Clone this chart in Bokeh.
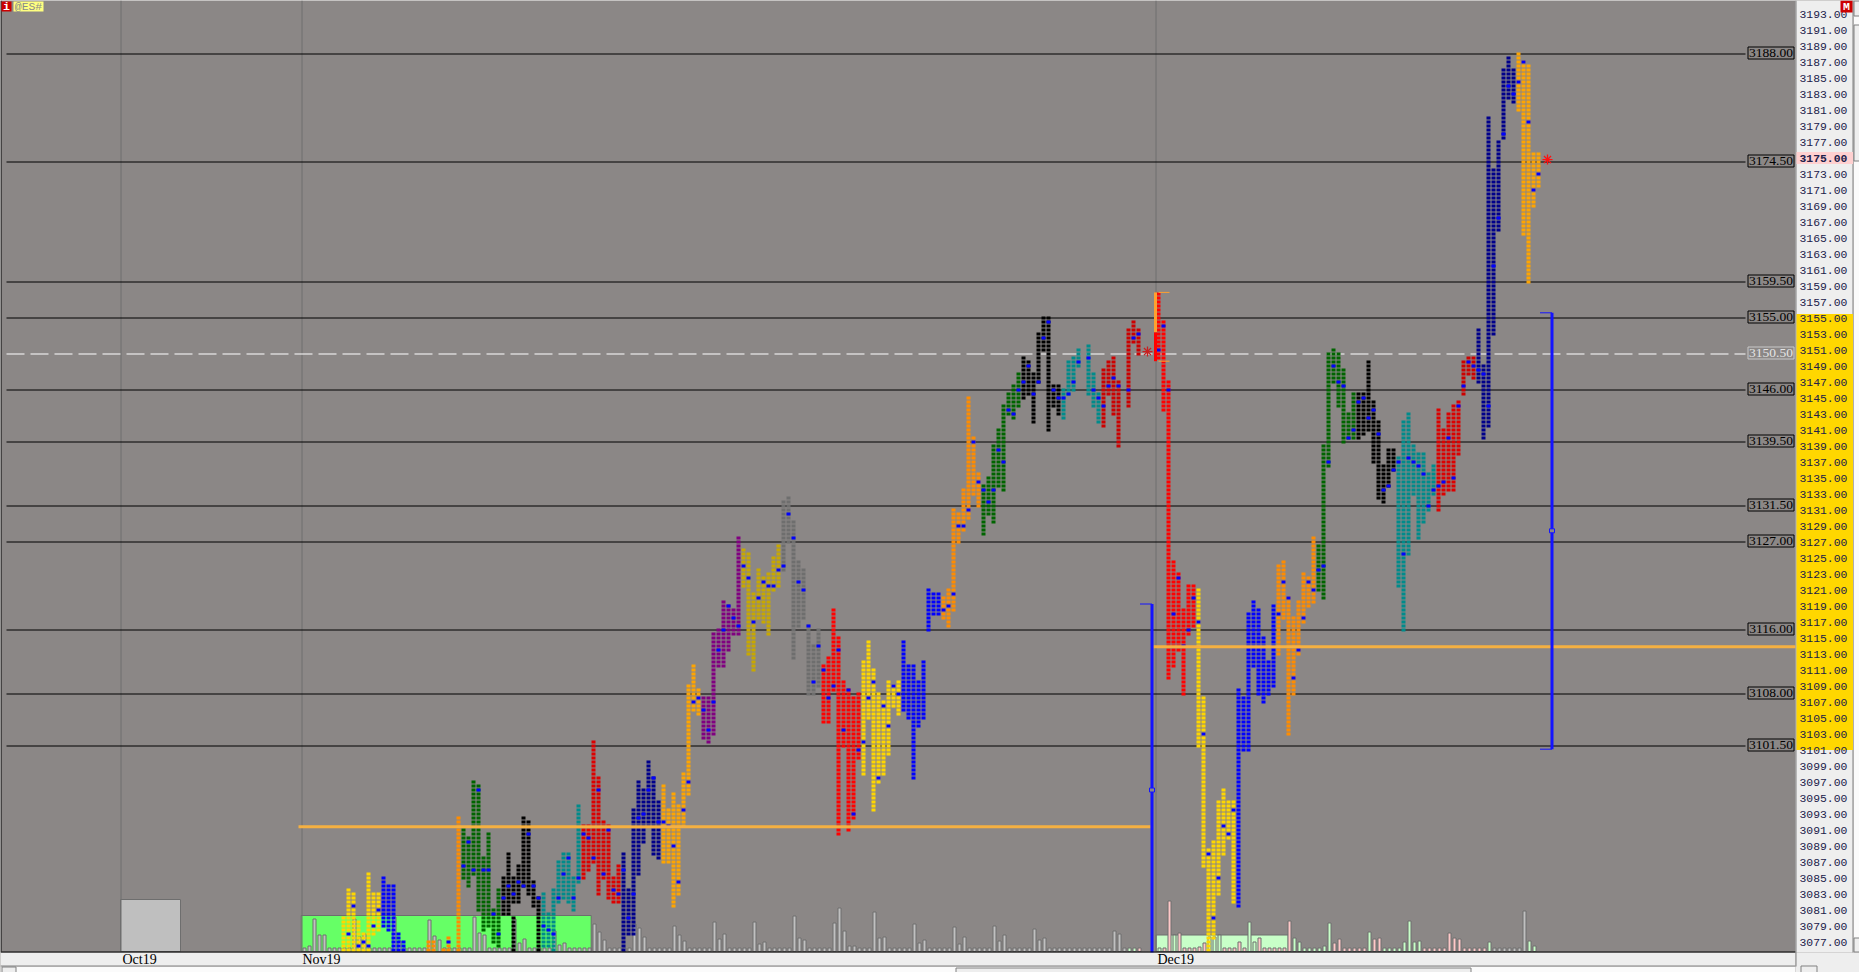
import numpy as np
from bokeh.plotting import figure
from bokeh.models import Range1d
from bokeh.core.properties import value
from bokeh.embed import file_html
from bokeh.resources import INLINE

# ---- profile columns ----
tpo_col = [
 68,69,70,71,72,73,74,75,
 76,77,78,79,80,
 85,86,88,89,91,
 92,93,94,95,96,97,98,99,
 100,101,102,102,103,104,105,106,107,
 108,109,110,111,112,113,114,115,
 116,117,118,119,120,121,122,123,
 124,125,126,127,128,129,130,131,
 132,133,134,135,136,137,138,139,
 140,141,142,143,144,145,146,147,
 148,149,150,151,152,153,154,155,
 156,157,158,159,160,161,162,163,
 164,165,166,167,168,169,170,171,
 172,173,174,175,176,177,178,179,
 180,181,182,183,184,185,186,187,
 188,189,190,191,192,193,194,195,
 196,197,198,199,200,201,202,203,
 204,205,206,207,208,209,210,211,
 212,213,214,215,217,218,219,
 220,221,222,223,225,226,227,
 231,232,233,234,235,236,237,238,
 239,240,241,242,243,244,245,246,
 247,248,249,250,251,252,253,254,
 255,256,257,258,259,260,261,262,
 263,264,265,266,267,268,269,270,
 271,272,273,274,275,276,277,278,
 279,280,281,282,283,284,285,286,
 287,288,289,290,291,292,293,294,
 295,296,297,298,299,300,301,302,
 303,304,305,306,307]
tpo_high = [
 3080,3083.5,3083,3079.5,3078,3085.5,3083,3083,
 3085,3084,3084,3078,3077,
 3077,3077,3076,3077.5,3092.5,
 3091,3090,3097,3096.5,3087.5,3090.5,3081,3083.5,
 3085,3088,3085,3080,3086.5,3092.5,3092,3084.5,3082.5,
 3083,3080.5,3083.5,3087,3088,3088,3085,3094,
 3091.5,3091.5,3102,3097.5,3092,3091.5,3085,3086.5,
 3088,3083.5,3093.5,3097,3096,3099.5,3097.5,3094.5,
 3096.5,3093.5,3095.5,3094,3098,3109,3111.5,3108.5,
 3107.5,3107.5,3115.5,3116,3119.5,3119,3118.5,3127.5,
 3126,3125.5,3120.5,3123.5,3122.5,3123,3125,3126.5,
 3132,3132.5,3129.5,3124.5,3123.5,3116.5,3114,3116,
 3111.5,3112.5,3118.5,3115,3109.5,3108.5,3107.5,3108,
 3112,3114.5,3111,3108,3107,3109.5,3109,3109.5,
 3114.5,3111.5,3111.5,3109.5,3112,3121,3120.5,3120.5,
 3120,3121,3131,3130.5,3133.5,3145,3140,3135.5,
 3134,3135,3139,3141,3144,3145.5,3146.5,3148,
 3150,3149.5,3148,3153,3155,3155,3146.5,3146.5,
 3146,3149.5,3150,3151,3151.5,3148,3145.5,
 3148.5,3149.5,3150,3147,3153.5,3154.5,3153.5,
 3158,3154.5,3147,3124.5,3123,3118.5,3121.5,3121.5,
 3121,3107.5,3088.5,3089.5,3094.5,3096,3094.5,3094.5,
 3108.5,3107.5,3118,3119.5,3118.5,3115,3112,3119,
 3124,3124.5,3120,3117.5,3119.5,3123,3122.5,3127.5,
 3126.5,3139,3150.5,3151,3150.5,3148.5,3143,3145.5,
 3145.5,3145.5,3149.5,3144.5,3142,3136.5,3138.5,3138.5,
 3137.5,3142,3143,3139,3138,3138,3135.5,3136.5,
 3143.5,3141,3143,3144,3144.5,3149.5,3150,3150,
 3153.5,3149,3180,3173.5,3177,3186,3187.5,3186,
 3188,3187,3186.5,3175.5,3175.5]
tpo_low = [
 3076,3076,3076,3076,3076,3076,3078,3078.5,
 3079,3078.5,3076,3076,3076,
 3076,3076,3076,3076,3076,
 3085,3084,3085.5,3081,3078.5,3079,3077,3076.5,
 3080.5,3080.5,3082,3076,3082,3084,3083,3081.5,3076,
 3076.5,3076.5,3076,3082,3082.5,3082,3081,3084.5,
 3085,3086,3087,3083,3085,3082.5,3082,3082,
 3076,3078,3078,3085.5,3089.5,3091.5,3088,3087.5,
 3087,3087,3081.5,3083,3091.5,3095.5,3106,3105.5,
 3102.5,3102,3103,3111.5,3111.5,3113.5,3115.5,3115.5,
 3121.5,3113,3111,3117.5,3117,3115.5,3121,3121.5,
 3123.5,3127,3112.5,3116.5,3117.5,3108,3108,3109,
 3104.5,3104.5,3108.5,3090.5,3101.5,3091,3092.5,3100,
 3098,3105,3093.5,3097,3098,3100.5,3106.5,3105.5,
 3106,3105,3097.5,3104,3105,3116,3118,3118,
 3117.5,3116.5,3118.5,3127,3128.5,3130,3133,3131.5,
 3128,3130.5,3129.5,3134,3133.5,3143,3142.5,3144,
 3145,3145.5,3142,3147,3151,3141,3144,3143,
 3142.5,3145.5,3146,3149,3145.5,3144,3142,
 3141.5,3145.5,3143,3139,3144,3152,3150.5,
 3150,3143.5,3110,3111.5,3113.5,3108,3115.5,3116.5,
 3101.5,3086.5,3076,3077.5,3083,3088,3090,3082,
 3081.5,3101,3101,3111.5,3108,3107,3108,3109,
 3113,3117.5,3103,3108,3113,3117,3119,3119.5,
 3121,3120,3136.5,3147,3144,3139.5,3140,3140,
 3140,3140.5,3141,3137,3132.5,3132,3134,3136,
 3121.5,3116,3125.5,3133,3127.5,3129.5,3131,3133,
 3131,3133,3133.5,3133.5,3138,3145.5,3148,3147.5,
 3147,3140,3141.5,3153,3166,3177.5,3182.5,3182,
 3181,3165.5,3159.5,3169,3171.5]
tpo_poc = [
 None,3078,3081.5,3076.5,3077,3076.5,3079,3081,
 None,None,None,None,None,
 None,None,None,3077,None,
 3086.5,3089.5,3086,3096,3086,3086,3080.5,3078,
 3082.5,3084,3083,None,3084.5,3084,3090.5,3084,3082.5,
 3079,3078.5,3078,3082.5,3085.5,3087.5,3082.5,3085,
 3090.5,3090,3087.5,3096,3085.5,3091,3083.5,3083,
 3086,3080,3083,3092.5,3093,3096,3097.5,3092,
 3092,3091.5,3089,3084.5,3093.5,3097,3107,3107.5,
 3106,3103.5,3107,3113.5,3116,3119,3117.5,3116.5,
 3124,3122.5,3117,3120,3122,3121.5,3121.5,3123.5,
 3124,3130.5,3127.5,3122,3121,3116.5,3109.5,3114,
 3111,3107.5,3109,3113.5,3103.5,3108.5,3093,3101,
 3102,3107.5,3109.5,3097.5,3106.5,3104,3109,3108,
 None,None,None,None,None,None,None,None,
 3118.5,3119,3120.5,3129,3129,3131,3139.5,3134.5,
 3133.5,3132,3133.5,3138.5,3137,3143.5,3143,3146,
 3147,3149,3145.5,3147,3152.5,3154.5,3146,3145,
 3145,3145.5,3147,3149.5,3150,3146,3145,
 3144,3146.5,3147.5,3146.5,3146,3152.5,3153,
 3151,3154,3146,3118,3122.5,3114,3116,3120,
 3117,3103,3088,3080,3085,3091.5,3090.5,3093.5,
 None,None,None,None,None,None,None,None,
 3118,3122,3120,3110,3113.5,3117.5,3122,3121,
 3123.5,3124,3137,3149,3147,3146.5,3140,3141,
 3144.5,3145,3142.5,3143.5,3140.5,3133.5,3134,3136,
 3137,3125.5,3137.5,3137,3136.5,3135.5,3131.5,3133.5,
 3134,3134.5,3140,3135,3144,3146.5,3149.5,3149,
 3148.5,3148,3144,3161.5,3167.5,3178,3184,3183,
 3184.5,3187,3179.5,3171,3173]

session_first = [68,76,85,92,100,108,116,124,132,140,148,156,164,172,180,188,196,204,212,220,
                 231,239,247,255,263,271,279,287,292,295,303]
session_color = ["#ffd700","#0000ff","#ff8c00","#006400","#000000","#008b8b","#dc0000","#00008b",
                 "#ffa500","#800080","#c8a800","#6e6e6e","#ff0000","#ffd700","#0000ff","#ff8c00",
                 "#006400","#000000","#008b8b","#cc0000","#ff0000","#ffd700","#0000ff","#ff8c00",
                 "#006400","#000000","#008b8b","#dc0000","#cc0000","#00008b","#ffa500"]
poc_color = "#0000ff"

# ---- volume per column ----
vol_col = list(range(60, 228)) + list(range(231, 308))
vol_val = [3,5,32,16,16,3,3,3, 3,3,32,14,17,3,3,3, 3,3,34,10,3,3,3,3, 3,31,15,11,3,3,3,3,
           3,3,34,18,16,3,3,3, 3,3,32,8,12,3,3,3, 3,3,20,6,8,3,3,3, 3,3,27,19,11,3,3,3,
           3,3,27,23,14,3,3,3, 3,3,25,16,10,3,3,3, 3,3,29,12,17,3,3,3, 3,3,29,7,9,3,3,3,
           3,3,35,13,11,3,3,3, 3,3,28,43,20,5,5,3, 3,3,39,13,14,3,3,3, 3,3,27,8,11,3,3,3,
           3,3,24,7,14,3,3,3, 3,3,25,10,16,3,3,3, 3,3,22,11,13,3,3,3, 3,3,3,3,3,3,3,3,
           3,3,20,17,3,3,3,3,
           3,3,50,16,18,3,3,3, 4,8,14,14,16,3,3,3, 9,3,29,9,13,3,3,3, 3,3,30,13,9,3,3,3,
           3,5,28,8,12,3,3,3, 3,3,19,12,13,3,3,3, 3,9,30,9,10,3,3,3, 3,3,18,13,12,3,3,3,
           3,3,9,3,3,3,3,3, 3,40,10,5]
vol_pink = [227,232,233,235,236,237,238,239,240,244,245,246,247,248,251,252,253,254,255,256,257,
            266,267,268,269,270,271,272,274,275,284,285,286,287,288,289,290,291,292,293,294,295,296]
vol_green = [225,226,231,234,241,242,243,249,250,258,259,260,261,262,263,264,265,273,276,277,278,
             279,280,281,282,283,297,305,306,307]

month_labels = ["Oct19","Nov19","Dec19"]
month_first_col = [23.4,59.54,230.54]
month_last_col = [35.4,117.54,256.94]
month_height = [52,36,16.5]
month_fill = ["#bfbfbf","#66ff66","#c8ffc8"]

level_price = [3188,3174.5,3159.5,3155,3146,3139.5,3131.5,3127,3116,3108,3101.5]
dashed_price = 3150.5
level_text = ["3188.00","3174.50","3159.50","3155.00","3146.00","3139.50","3131.50","3127.00","3116.00","3108.00","3101.50"]

tick_price = list(range(3077, 3195, 2))
tick_text = ["%d.00" % t for t in tick_price]
va_low, va_high = 3101, 3155.5
last_price = 3175

# vpoc lines: price, first column, last column
orange_price = [3091.4, 3113.9]
orange_from = [59, 230]
orange_to = [229.4, 358.5]

# range brackets
bracket_col = [229.7, 309.7]
bracket_top = [3119.25, 3155.65]
bracket_bot = [3075, 3101.1]
bracket_mid = [3096, 3128.4]

marker_col = [228.8, 308.8]
marker_price = [3150.8, 3174.8]
marker_color = ["#c82020", "#ff1010"]

# ---- figure: the figure's corner is the picture's corner ----
W, H = 1859, 972
OX, OY = 0, 0
def col_of(px): return (px - 3) / 5
def price_of(py): return 3188 - (py - 53.5) / 8

p = figure(width=W, height=H, output_backend="svg", toolbar_location=None,
           x_axis_type=None, y_axis_type=None, min_border=0,
           x_range=Range1d(col_of(OX), col_of(OX + W)),
           y_range=Range1d(price_of(OY + H), price_of(OY)),
           background_fill_color="#8b8786", border_fill_color="#ffffff",
           outline_line_color=None)
p.grid.visible = False
p.extra_x_ranges["px"] = Range1d(OX, OX + W)
p.extra_y_ranges["py"] = Range1d(OY + H, OY)
p.extra_y_ranges["vol"] = Range1d(951 - (OY + H), 951 - OY)
CH = dict(x_range_name="px", y_range_name="py")

# month blocks
p.quad(left=month_first_col, right=month_last_col, bottom=0, top=month_height,
       fill_color=month_fill, line_color="#6e6e6e", line_width=1, y_range_name="vol")

# month separators
for px in (120.5, 301.5, 1155.5):
    p.segment(px, 0, px, 951, line_color="#6e6e6e", line_width=1, **CH)

# volume bars
vc = np.array(vol_col)
vv = np.array(vol_val[:len(vol_col)], dtype=float)
vfill = ["#ffc8c8" if c in vol_pink else "#c8ffc8" if c in vol_green else "#c0c0c0" for c in vol_col]
p.quad(left=vc - 0.1, right=vc + 0.5, bottom=0, top=vv + 0.5, fill_color=vfill,
       line_color="#6e6e6e", line_width=1, y_range_name="vol")

# levels
p.segment(x0=col_of(6), x1=col_of(1745), y0=level_price, y1=level_price, line_color="#000000", line_width=1)
p.segment(x0=col_of(6), x1=col_of(1745), y0=dashed_price, y1=dashed_price, line_color="#ffffff",
          line_width=1.2, line_dash="18 6")

# profile cells
xs, ys, cs, px_, py_ = [], [], [], [], []
for c, hi, lo, poc in zip(tpo_col, tpo_high, tpo_low, tpo_poc):
    col = session_color[np.searchsorted(session_first, c, side="right") - 1]
    for r in np.arange(lo, hi + 0.25, 0.5):
        xs.append(c); ys.append(r); cs.append(col)
    if poc is not None:
        px_.append(c); py_.append(poc)
p.rect(xs, ys, width=4, height=3, width_units="screen", height_units="screen", fill_color=cs, line_color=None)
p.rect(px_, py_, width=4, height=3, width_units="screen", height_units="screen", fill_color=poc_color, line_color=None)

# vpoc lines
p.segment(x0=orange_from, x1=orange_to, y0=orange_price, y1=orange_price, line_color="#f5b041", line_width=3)

# open marks at start of December
p.segment([230.4, 230.4], [3158.2, 3153.2], [230.4, 230.4], [3153.2, 3149.6],
          line_color=["#ffa030", "#ff0000"], line_width=3)
p.segment([231, 231], [3158.2, 3149.6], [233.2, 233.2], [3158.2, 3149.6], line_color="#ffa030", line_width=1)

# brackets
bc = np.array(bracket_col)
p.segment(bc, bracket_top, bc, bracket_bot, line_color="#1414ff", line_width=3)
p.segment(bc - 2.4, bracket_top, bc, bracket_top, line_color="#1414ff", line_width=1)
p.segment(bc - 2.4, bracket_bot, bc, bracket_bot, line_color="#1414ff", line_width=1)
p.rect(bc, bracket_mid, width=5, height=4, width_units="screen", height_units="screen",
       fill_color="#8b8786", line_color="#1414ff", line_width=1)

# last-price markers
p.asterisk(marker_col, marker_price, size=10, line_color=marker_color, line_width=1.3)

# strip and panels
p.quad(left=[0, 0, 1795], right=[1795, 1795, 1870], top=[952, 966, 952], bottom=[966, 985, 985],
       fill_color=["#eeeeee", "#fbfbfb", "#eeeeee"], line_color=None, **CH)
p.quad(left=[1795, 1853], right=[1853, 1870], top=[0, 0], bottom=[952, 952],
       fill_color=["#eeeeee", "#fbfbfb"], line_color=None, **CH)
p.segment(0, 951.5, 1795, 951.5, line_color="#000000", line_width=1.2, **CH)
p.segment(0, 965.5, 1795, 965.5, line_color="#808080", line_width=1, **CH)
p.segment(1795.5, 0, 1795.5, 966, line_color="#808080", line_width=1, **CH)
p.segment(1852.5, 0, 1852.5, 952, line_color="#808080", line_width=1, **CH)
p.segment(0.5, 0, 0.5, 951, line_color="#000000", line_width=1, **CH)

# price axis bands
p.hbar(y=[(va_low + va_high) / 2], height=va_high - va_low, left=col_of(1796), right=col_of(1852.5),
       fill_color="#ffd700", line_color=None)
p.hbar(y=[last_price], height=1.5, left=col_of(1796), right=col_of(1852.5), fill_color="#ffd0d0", line_color=None)

# price axis labels
TF = value("Liberation Mono")
p.text(x=[col_of(1799)] * (len(tick_price) - 1), y=[t for t in tick_price if t != last_price],
       text=[s for t, s in zip(tick_price, tick_text) if t != last_price], text_font=TF,
       text_font_size="11.4px", text_color="#20204a", text_baseline="middle", text_align="left")
p.text(x=[col_of(1799)], y=[last_price], text=["%d.00" % last_price], text_font=TF, text_font_size="11.4px",
       text_font_style="bold", text_color="#20204a", text_baseline="middle", text_align="left")

# level tags: the tag sits one pixel above its line
LF = value("Liberation Serif")
tag_y = np.array(level_price) + 0.125
p.rect([col_of(1770.5)] * len(level_price), tag_y, width=46, height=12, width_units="screen",
       height_units="screen", fill_color="#8b8786", line_color="#000000", line_width=1)
p.text([col_of(1770.5)] * len(level_price), tag_y, text=level_text, text_font=LF, text_font_size="13.5px",
       text_color="#000000", text_align="center", text_baseline="middle")
p.rect([col_of(1770.5)], [dashed_price + 0.125], width=46, height=12, width_units="screen", height_units="screen",
       fill_color="#8b8786", line_color="#c8c8c8", line_width=1)
p.text([col_of(1770.5)], [dashed_price + 0.125], text=["3150.50"], text_font=LF, text_font_size="13.5px",
       text_color="#e4e4e4", text_align="center", text_baseline="middle")

# month labels
p.text([122, 302, 1157], [959, 959, 959], text=month_labels, text_font=LF, text_font_size="14px",
       text_color="#000000", text_baseline="middle", text_align="left", **CH)

# scroll bar pieces
BTN = dict(fill_color="#eeeeee", line_color="#808080", line_width=1, **CH)
p.quad(left=[955.5], right=[1470.5], top=[967.5], bottom=[977.5], **BTN)
p.quad(left=[1.5], right=[15.5], top=[966.5], bottom=[978.5], **BTN)
p.quad(left=[1800.5], right=[1816.5], top=[965.5], bottom=[978.5], **BTN)
p.quad(left=[1853.5], right=[1866], top=[0.5], bottom=[15.5], **BTN)
p.quad(left=[1853.5], right=[1866], top=[24.5], bottom=[160.5], **BTN)
p.quad(left=[1853.5], right=[1866], top=[937.5], bottom=[951.5], **BTN)

# badges
p.quad(left=[1, 13, 1840], right=[11, 43, 1852], top=[1, 1, 0], bottom=[11, 11, 12],
       fill_color=["#cc0000", "#ffff80", "#cc0000"], line_color=None, **CH)
p.text([6, 1846], [6, 6], text=["i", "M"], text_font=TF, text_font_size="11.5px",
       text_font_style="bold", text_color="#ffffff", text_align="center", text_baseline="middle", **CH)
p.text([28], [6], text=["@ES#"], text_font=TF, text_font_size="11.4px",
       text_color="#8a8a8a", text_align="center", text_baseline="middle", **CH)

open("out.html", "w").write(file_html(p, INLINE))
